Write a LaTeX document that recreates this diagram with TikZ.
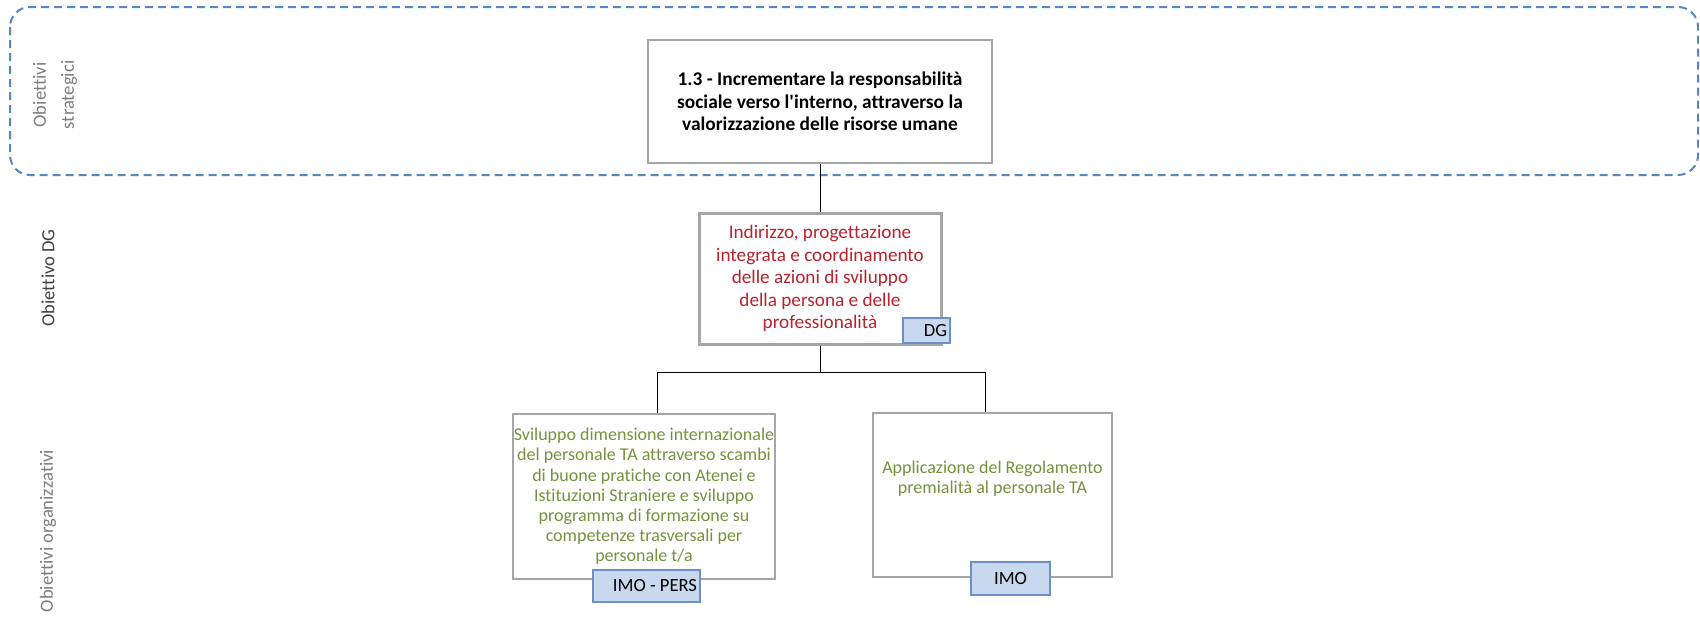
\documentclass[tikz,border=0pt]{standalone}
\usepackage{fontspec}
\setmainfont{Carlito}[Ligatures=NoCommon]
\definecolor{stratblue}{RGB}{84,135,195}
\definecolor{boxgray}{RGB}{166,166,166}
\definecolor{dgred}{RGB}{185,35,45}
\definecolor{orggreen}{RGB}{118,146,60}
\definecolor{tagfill}{RGB}{200,216,238}
\definecolor{tagline}{RGB}{105,145,200}
\definecolor{lanegray}{RGB}{125,125,125}
\definecolor{lanedark}{RGB}{64,64,64}
\newcommand{\tagnode}[6]{\node[tag,text width=#3,minimum height=#4,align=#5] (#1) at (#2) {#6}; }

\begin{document}
\begin{tikzpicture}[x=0.5pt,y=-0.5pt,every node/.style={inner sep=0pt},
  lane/.style={rotate=90,align=center,text=lanegray,font=\fontsize{9.3}{14}\selectfont},
  obj/.style={draw=boxgray,line width=0.8pt,fill=white,align=center},
  tag/.style={draw=tagline,line width=0.8pt,fill=tagfill,inner xsep=1.5pt,font=\fontsize{9.3}{11}\selectfont},
  link/.style={line width=0.5pt}]
  \useasboundingbox (0,0) rectangle (1700,616);
  \draw[stratblue,line width=1pt,dash pattern=on 4pt off 2.5pt,rounded corners=10pt] (10,7) rectangle (1698,175);
  \node[lane] (ls) at (55,95) {Obiettivi\\strategici};
  \node[lane,text=lanedark] (ld) at (48,278) {Obiettivo DG};
  \node[lane] (lo) at (48,531) {Obiettivi organizzativi};
  \node[obj,minimum width=172pt,minimum height=61.5pt,font=\bfseries\fontsize{9.7}{11.2}\selectfont] (os) at (820,101.5)
    {1.3 - Incrementare la responsabilità\\sociale verso l\textquotesingle interno, attraverso la\\valorizzazione delle risorse umane};
  \node[obj,line width=1.5pt,minimum width=121pt,minimum height=65.5pt,text=dgred,font=\fontsize{9.6}{11.3}\selectfont] (dg) at (820,278.5)
    {Indirizzo, progettazione\\integrata e coordinamento\\delle azioni di sviluppo\\della persona e delle\\professionalità};
  \node[obj,minimum width=131pt,minimum height=82.5pt,text=orggreen,font=\fontsize{9}{10.1}\selectfont] (o1) at (644,496.5)
    {Sviluppo dimensione internazionale\\del personale TA attraverso scambi\\di buone pratiche con Atenei e\\Istituzioni Straniere e sviluppo\\programma di formazione su\\competenze trasversali per\\personale t/a};
  \node[obj,minimum width=119.5pt,text height=35.3pt,text depth=46.7pt,text=orggreen,font=\fontsize{9}{10.1}\selectfont] (o2) at (992.5,495)
    {\begin{tabular}{@{}c@{}}Applicazione del Regolamento\\premialità al personale TA\end{tabular}};
  \coordinate (jl) at (657,372);
  \coordinate (jr) at (985,372);
  \draw[link] (os) -- (dg);
  \draw[link] (dg.south) -- (dg.south |- jl);
  \draw[link] (o1.north -| jl) |- (jr) -- (o2.north -| jr);
  \tagnode{tdg}{926.5,330.5}{20.5pt}{12.5pt}{flush right}{DG}
  \tagnode{tpers}{646.5,586}{50.5pt}{16pt}{flush right}{IMO - PERS}
  \tagnode{timo}{1010.5,578.5}{36.5pt}{16.5pt}{flush center}{IMO}
\end{tikzpicture}
\end{document}
